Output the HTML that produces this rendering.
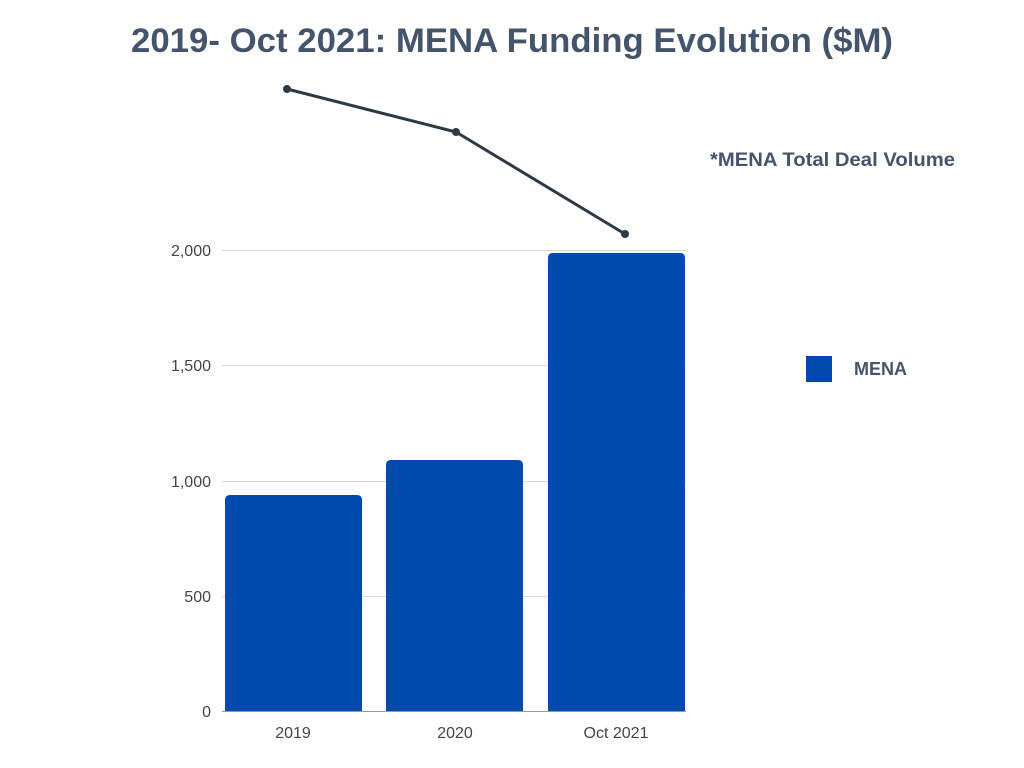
<!DOCTYPE html>
<html><head><style>
body{margin:0;background:#fff;}
svg{display:block;font-family:"Liberation Sans",sans-serif;}
</style></head><body>
<svg width="1024" height="768" viewBox="0 0 1024 768">
<text x="131" y="52" font-size="34" font-weight="bold" fill="#44546a" textLength="762" lengthAdjust="spacingAndGlyphs">2019- Oct 2021: MENA Funding Evolution ($M)</text>
<g stroke="#d9d9d9" stroke-width="1">
<line x1="222" y1="250.5" x2="686" y2="250.5"/>
<line x1="222" y1="365.5" x2="686" y2="365.5"/>
<line x1="222" y1="481.5" x2="686" y2="481.5"/>
<line x1="222" y1="596.5" x2="686" y2="596.5"/>
</g>
<g font-size="16" fill="#444" text-anchor="end">
<text x="211" y="256">2,000</text>
<text x="211" y="371">1,500</text>
<text x="211" y="487">1,000</text>
<text x="211" y="602">500</text>
<text x="211" y="717">0</text>
</g>
<g fill="#004aad">
<path d="M225 711 V500 Q225 495 230 495 H357 Q362 495 362 500 V711Z"/>
<path d="M386 711 V465 Q386 460 391 460 H518 Q523 460 523 465 V711Z"/>
<path d="M548 711 V258 Q548 253 553 253 H680 Q685 253 685 258 V711Z"/>
</g>
<line x1="222" y1="711.5" x2="686" y2="711.5" stroke="#999" stroke-width="1"/>
<g font-size="16" fill="#444" text-anchor="middle">
<text x="293" y="738">2019</text>
<text x="455" y="738">2020</text>
<text x="616" y="738">Oct 2021</text>
</g>
<polyline points="287,89 456,132 625,234" fill="none" stroke="#2d3a45" stroke-width="3"/>
<g fill="#2d3a45"><circle cx="287" cy="89" r="4"/><circle cx="456" cy="132" r="4"/><circle cx="625" cy="234" r="4"/></g>
<text x="710" y="166" font-size="19" font-weight="bold" fill="#44546a" textLength="245" lengthAdjust="spacingAndGlyphs">*MENA Total Deal Volume</text>
<rect x="806" y="356" width="26" height="26" fill="#004aad"/>
<text x="854" y="375" font-size="18" font-weight="bold" fill="#44546a">MENA</text>
</svg>
</body></html>
